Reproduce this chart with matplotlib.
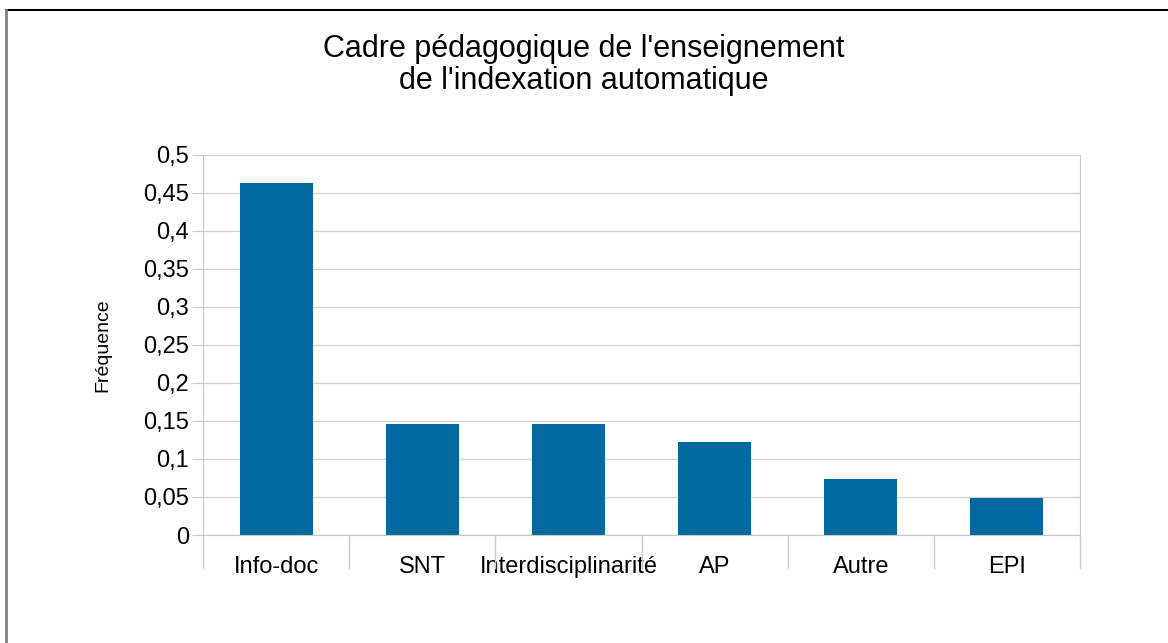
import matplotlib.pyplot as plt
from matplotlib.lines import Line2D
from matplotlib.ticker import FuncFormatter

plt.rcParams['font.family'] = ['Liberation Sans', 'DejaVu Sans']

categories = ["Info-doc", "SNT", "Interdisciplinarité", "AP", "Autre", "EPI"]
frequences = [19 / 41, 6 / 41, 6 / 41, 5 / 41, 3 / 41, 2 / 41]
yticks = [0, 0.05, 0.1, 0.15, 0.2, 0.25, 0.3, 0.35, 0.4, 0.45, 0.5]

fig = plt.figure(figsize=(11.68, 6.43), dpi=100)
ax = fig.add_axes([203 / 1168, 1 - 535 / 643, 877 / 1168, 380 / 643])

x = range(len(categories))
ax.bar(x, frequences, width=0.5, color="#0069a0", zorder=3)

ax.set_xlim(-0.5, len(categories) - 0.5)
ax.set_ylim(0, 0.5)
ax.set_yticks(yticks)
ax.yaxis.set_major_formatter(FuncFormatter(lambda v, p: ("%g" % v).replace(".", ",")))
ax.tick_params(axis="y", labelsize=17, length=8, color="#c8c8c8", pad=2)
ax.set_xticks(list(x))
ax.set_xticklabels(categories)
ax.tick_params(axis="x", labelsize=17, length=0, pad=15)
ax.grid(axis="y", color="#d4d4d4", linewidth=1, zorder=0)

ax.spines["top"].set_visible(False)
for s in ["left", "right", "bottom"]:
    ax.spines[s].set_color("#c8c8c8")

# separateurs sous l'axe des x
for i in range(len(categories) + 1):
    ax.add_line(Line2D([i - 0.5, i - 0.5], [0, -0.044], color="#c8c8c8",
                       linewidth=1, clip_on=False, transform=ax.transData))

ax.set_ylabel("Fréquence", fontsize=14)
ax.yaxis.set_label_coords(-(203 - 111) / 877, 0.5)

fig.text(0.5, 1 - 65 / 643, "Cadre pédagogique de l'enseignement\nde l'indexation automatique",
         ha="center", va="center", fontsize=22, linespacing=1.05)

# cadre de la figure
fig.add_artist(Line2D([6 / 1168, 1], [1 - 10 / 643, 1 - 10 / 643], color="black", linewidth=1.5))
fig.add_artist(Line2D([6 / 1168, 6 / 1168], [0, 1 - 10 / 643], color="#808080", linewidth=2))

fig.savefig("out.png", dpi=100)
